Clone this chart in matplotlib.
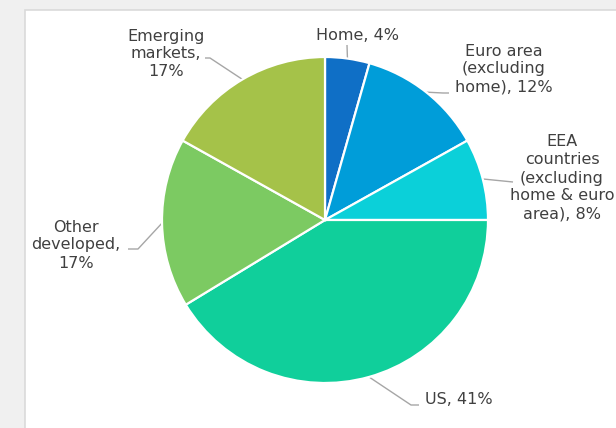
import numpy as np
import matplotlib.pyplot as plt
from matplotlib.patches import Rectangle

labels = ['Home, 4%', 'Euro area\n(excluding\nhome), 12%',
          'EEA\ncountries\n(excluding\nhome & euro\narea), 8%',
          'US, 41%', 'Other\ndeveloped,\n17%', 'Emerging\nmarkets,\n17%']
shares = [4.4, 12.5, 8.1, 41.3, 16.8, 16.9]
colors = ['#0F6FC6', '#009DD9', '#0BD0D9', '#10CF9B', '#7CCA62', '#A5C249']

W, H = 616, 428
CX, CY, R = 325, 220, 163


def px(x, y):
    # пиксели (сверху вниз) -> координаты осей
    return (x - CX) / R, (CY - y) / R


fig = plt.figure(figsize=(W / 100, H / 100), dpi=100, facecolor='#f0f0f0')
ax = fig.add_axes([0, 0, 1, 1])
ax.set_facecolor('none')
ax.add_patch(Rectangle((25 / W, -0.01), 1, 1.01 - 10 / H, transform=fig.transFigure,
                       facecolor='white', edgecolor='#dadada', lw=1.2, zorder=0))

wedges, _ = ax.pie(shares, colors=colors, startangle=90, counterclock=False, radius=1,
                   wedgeprops=dict(edgecolor='white', linewidth=1.6, zorder=2))
ax.set_aspect('auto')
ax.set_xlim(px(0, 0)[0], px(W, 0)[0])
ax.set_ylim(px(0, H)[1], px(0, 0)[1])
ax.axis('off')

# положение подписей (центр текста) и изломы линий, в пикселях
text_pos = [(358, 35), (504, 69), (562, 178), (459, 400), (76, 245), (166, 54)]
elbows = [[(347, 45)], [(443, 93), (449, 93)], [(513, 182)],
          [(411, 405), (419, 405)], [(138, 249), (128, 249)], [(210, 58), (205, 58)]]

for w, lab, tp, el in zip(wedges, labels, text_pos, elbows):
    ang = np.deg2rad((w.theta1 + w.theta2) / 2)
    start = (np.cos(ang) * 1.0, np.sin(ang) * 1.0)
    pts = [start] + [px(*p) for p in el]
    ax.plot([p[0] for p in pts], [p[1] for p in pts], color='#a6a6a6', lw=1,
            solid_capstyle='butt', clip_on=False, zorder=1)
    ax.text(*px(*tp), lab, ha='center', va='center', fontsize=11.5, color='#404040',
            linespacing=1.25, multialignment='center', zorder=3)

fig.savefig('out.png', dpi=100, facecolor=fig.get_facecolor())
